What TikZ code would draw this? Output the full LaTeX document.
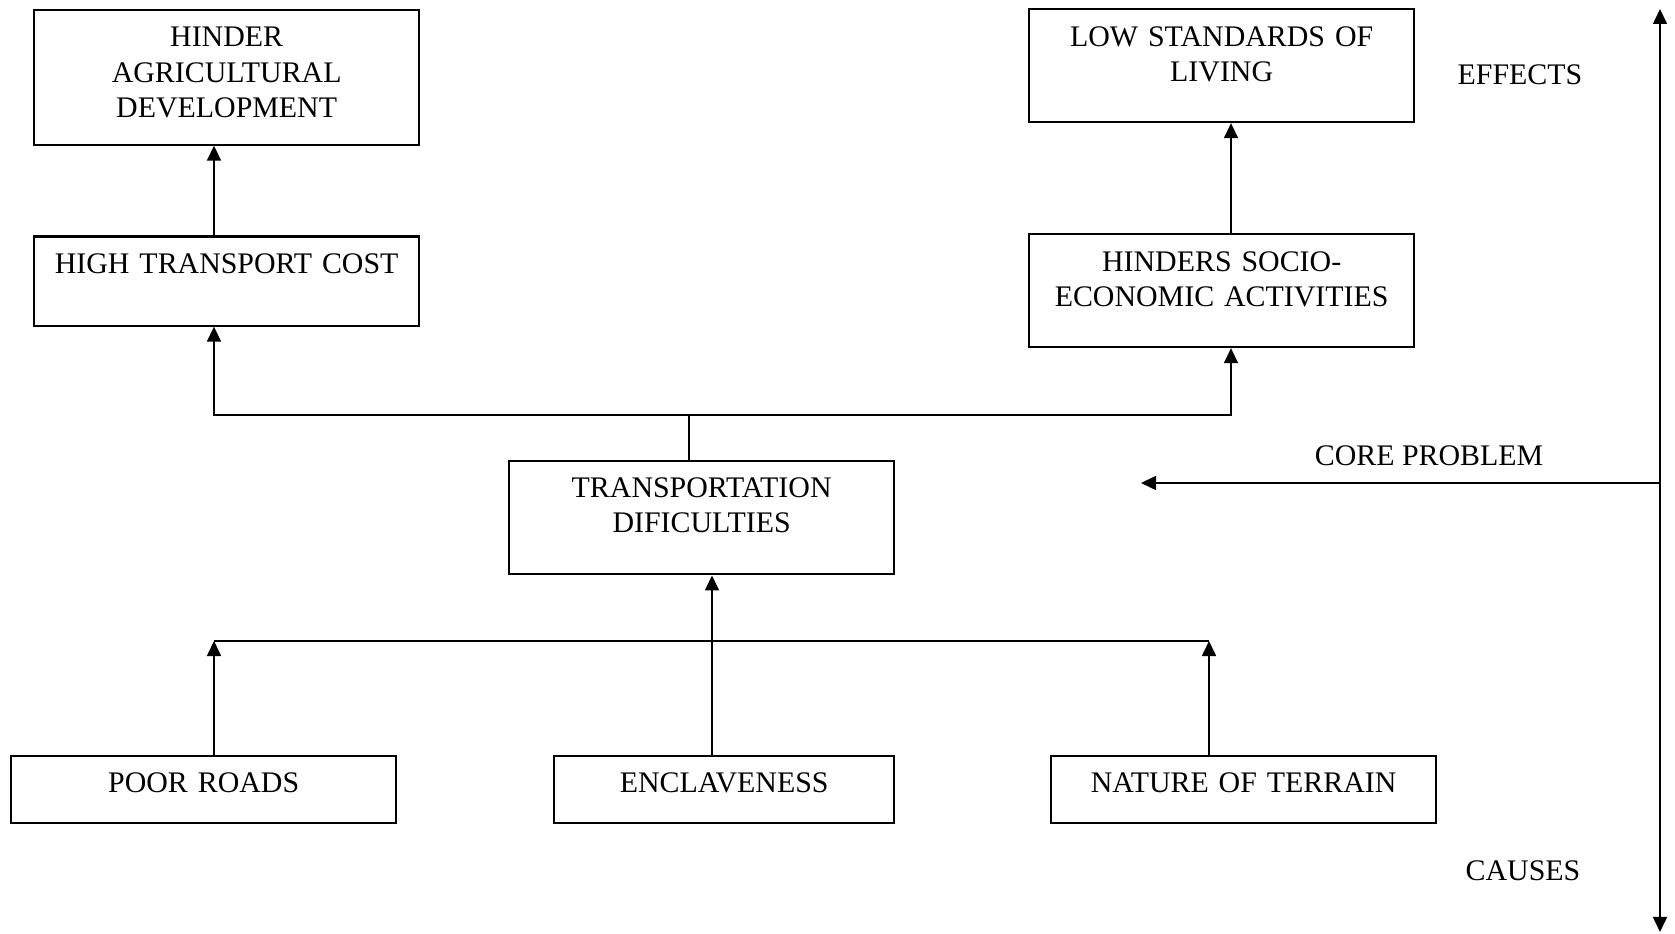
\documentclass[tikz,border=0pt]{standalone}
\usepackage{fontspec}
\setmainfont{Liberation Serif}
\usetikzlibrary{arrows.meta}

\begin{document}
\begin{tikzpicture}[x=0.01cm, y=-0.01cm, >={Triangle[length=1.5mm, width=1.4mm]},
		font=\fontsize{8.5}{10}\selectfont,
		box/.style={draw, rectangle, line width=0.6pt, anchor=north west, align=center, inner sep=0pt, text width=3.85cm, text height=0.37cm},
		link/.style={line width=0.45pt}]
		\useasboundingbox (0,0) rectangle (1675,934);
		
		% effects
		\node (agric) [box, text depth=0.976cm] at (33,8.9) {HINDER\\AGRICULTURAL\\DEVELOPMENT};
		\node (living) [box, text depth=0.756cm] at (1028,8.4) {LOW STANDARDS OF\\LIVING};
		\node (cost) [box, text depth=0.52cm] at (33,235.5) {HIGH TRANSPORT COST};
		\node (socio) [box, text depth=0.757cm] at (1028,233.3) {HINDERS SOCIO-\\ECONOMIC ACTIVITIES};
		% core problem
		\node (transport) [box, text depth=0.766cm] at (508,459.7) {TRANSPORTATION\\DIFICULTIES};
		% causes
		\node (roads) [box, text depth=0.306cm] at (10,754.7) {POOR ROADS};
		\node (enclave) [box, text width=3.4cm, text depth=0.306cm] at (553,754.7) {ENCLAVENESS};
		\node (terrain) [box, text depth=0.306cm] at (1050,754.7) {NATURE OF TERRAIN};
		
		\coordinate (lcol) at (214,415);
		\coordinate (rcol) at (1231,415);
		\coordinate (split) at (689,415);
		\draw[link] (transport.north -| split) -- (split);
		\draw[link, ->] (split) -| (cost.south -| lcol);
		\draw[link, ->] (split) -| (socio.south -| rcol);
		\draw[link, ->] (cost.north -| lcol) -- (agric.south -| lcol);
		\draw[link, ->] (socio.north -| rcol) -- (living.south -| rcol);
		
		\coordinate (cleft) at (214,641);
		\coordinate (cright) at (1209,641);
		\coordinate (cmid) at (712,641);
		\draw[link] (cleft) -- (cright);
		\draw[link, ->] (roads.north -| cleft) -- (cleft);
		\draw[link, ->] (terrain.north -| cright) -- (cright);
		\draw[link, ->] (enclave.north -| cmid) -- (transport.south -| cmid);
		
		% side axis
		\coordinate (axtop) at (1660,9);
		\coordinate (axbot) at (1660,932);
		\coordinate (coretip) at (1141,483);
		\draw[link, <->] (axbot) -- (axtop);
		\draw[link, ->] (coretip -| axtop) -- (coretip);
		
		\node (effects) [anchor=base] at (1520,85) {EFFECTS};
		\node (core) [anchor=base] at (1429,466) {CORE PROBLEM};
		\node (causes) [anchor=base] at (1523,881) {CAUSES};
	\end{tikzpicture}
\end{document}
